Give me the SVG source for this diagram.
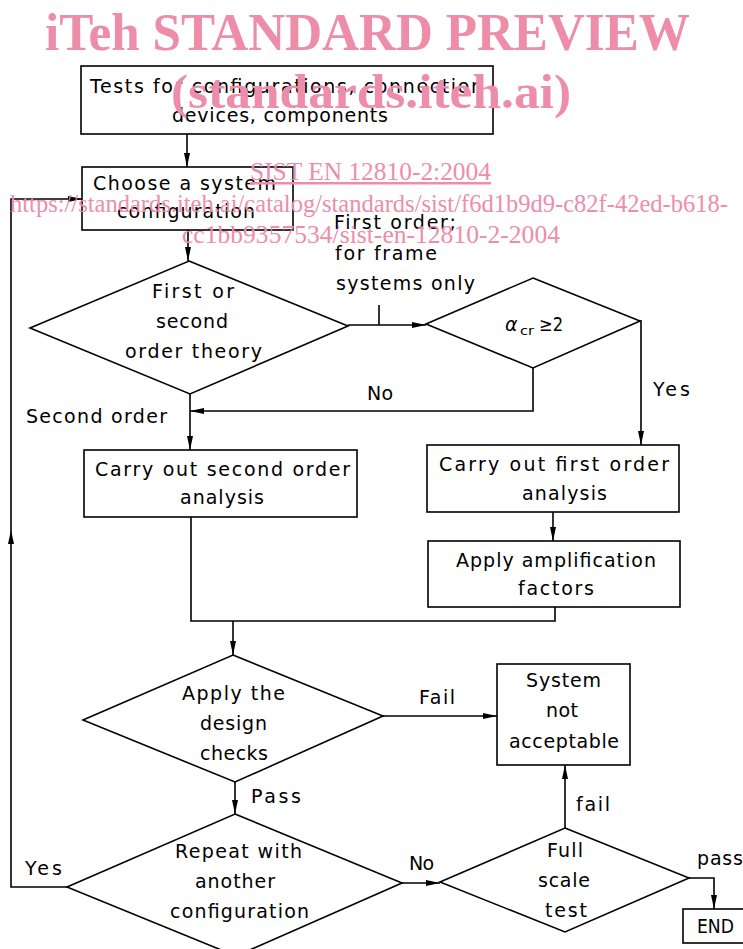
<svg xmlns="http://www.w3.org/2000/svg" width="743" height="949" viewBox="0 0 743 949">
<defs>
<style>
.s{fill:#fff;stroke:#000;stroke-width:1.6}
.c{fill:none;stroke:#000;stroke-width:1.6}
.t{font-family:"DejaVu Sans","Liberation Sans",sans-serif;font-size:19px;fill:#000}
.wm{font-family:"Liberation Serif","Times New Roman",serif;fill:#EE8DAA}
</style>
<marker id="ah" viewBox="0 0 14 8" refX="14" refY="4" markerWidth="14" markerHeight="8" markerUnits="userSpaceOnUse" orient="auto">
<path d="M0,1 L14,4 L0,7 Z" fill="#000"/>
</marker>
</defs>
<rect width="743" height="949" fill="#fff"/>

<g id="connectors">
<path class="c" d="M187,134 V167" marker-end="url(#ah)"/>
<path class="c" d="M188,230 V261" marker-end="url(#ah)"/>
<path class="c" d="M348,325 H426" marker-end="url(#ah)"/>
<path class="c" d="M379,305 V325"/>
<path class="c" d="M533,368 V411 H190" marker-end="url(#ah)"/>
<path class="c" d="M640,321 H641 V445" marker-end="url(#ah)"/>
<path class="c" d="M190,394 V450" marker-end="url(#ah)"/>
<path class="c" d="M553,512 V541" marker-end="url(#ah)"/>
<path class="c" d="M191,517 V621 H555 V607"/>
<path class="c" d="M233,621 V655" marker-end="url(#ah)"/>
<path class="c" d="M383,716 H497" marker-end="url(#ah)"/>
<path class="c" d="M235,782 V814" marker-end="url(#ah)"/>
<path class="c" d="M67,887 H11 V530" marker-end="url(#ah)"/>
<path class="c" d="M11,530 V199 H82" marker-end="url(#ah)"/>
<path class="c" d="M402,883 H440" marker-end="url(#ah)"/>
<path class="c" d="M565,828 V765" marker-end="url(#ah)"/>
<path class="c" d="M689,878 H714 V909" marker-end="url(#ah)"/>
</g>

<g id="tests">
<rect class="s" x="81" y="66" width="412" height="68"/>
<text class="t" x="90" y="93" textLength="393" lengthAdjust="spacing">Tests for configurations, connection</text>
<text class="t" x="172" y="122" textLength="216" lengthAdjust="spacing">devices, components</text>
</g>

<g id="choose">
<rect class="s" x="82" y="167" width="211" height="63"/>
<text class="t" x="93" y="190" textLength="183" lengthAdjust="spacing">Choose a system</text>
<text class="t" x="117" y="218" textLength="138" lengthAdjust="spacing">configuration</text>
</g>

<g id="theory">
<polygon class="s" points="189,261 348,326 190,394 30,328"/>
<text class="t" x="152" y="298" textLength="82" lengthAdjust="spacing">First or</text>
<text class="t" x="156" y="328" textLength="72" lengthAdjust="spacing">second</text>
<text class="t" x="125" y="358" textLength="137" lengthAdjust="spacing">order theory</text>
</g>

<g id="labels">
<text class="t" x="334" y="229" textLength="122" lengthAdjust="spacing">First order;</text>
<text class="t" x="335" y="260" textLength="102" lengthAdjust="spacing">for frame</text>
<text class="t" x="336" y="290" textLength="139" lengthAdjust="spacing">systems only</text>
<text class="t" x="367" y="400" textLength="26" lengthAdjust="spacing">No</text>
<text class="t" x="653" y="396" textLength="37" lengthAdjust="spacing">Yes</text>
<text class="t" x="26" y="423" textLength="141" lengthAdjust="spacing">Second order</text>
<text class="t" x="419" y="704" textLength="36" lengthAdjust="spacing">Fail</text>
<text class="t" x="251" y="803" textLength="50" lengthAdjust="spacing">Pass</text>
<text class="t" x="25" y="875" textLength="37" lengthAdjust="spacing">Yes</text>
<text class="t" x="409" y="870" textLength="25" lengthAdjust="spacing">No</text>
<text class="t" x="576" y="811" textLength="34" lengthAdjust="spacing">fail</text>
<text class="t" x="697" y="865" textLength="46" lengthAdjust="spacing">pass</text>
</g>

<g id="alpha">
<polygon class="s" points="533,278 640,321 533,368 426,324"/>
<text class="t" x="505" y="331" font-style="italic">α</text>
<text class="t" x="520" y="335" style="font-size:12px" textLength="14" lengthAdjust="spacingAndGlyphs">cr</text>
<text class="t" x="539" y="331" textLength="24" lengthAdjust="spacingAndGlyphs">≥2</text>
</g>

<g id="second">
<rect class="s" x="84" y="450" width="273" height="67"/>
<text class="t" x="95" y="476" textLength="255" lengthAdjust="spacing">Carry out second order</text>
<text class="t" x="180" y="504" textLength="84" lengthAdjust="spacing">analysis</text>
</g>

<g id="first">
<rect class="s" x="427" y="445" width="252" height="67"/>
<text class="t" x="439" y="471" textLength="230" lengthAdjust="spacing">Carry out first order</text>
<text class="t" x="522" y="500" textLength="85" lengthAdjust="spacing">analysis</text>
</g>

<g id="amplify">
<rect class="s" x="428" y="541" width="252" height="66"/>
<text class="t" x="456" y="567" textLength="200" lengthAdjust="spacing">Apply amplification</text>
<text class="t" x="518" y="595" textLength="76" lengthAdjust="spacing">factors</text>
</g>

<g id="checks">
<polygon class="s" points="233,655 383,716 235,782 83,720"/>
<text class="t" x="182" y="700" textLength="103" lengthAdjust="spacing">Apply the</text>
<text class="t" x="200" y="730" textLength="67" lengthAdjust="spacing">design</text>
<text class="t" x="200" y="760" textLength="68" lengthAdjust="spacing">checks</text>
</g>

<g id="notacceptable">
<rect class="s" x="497" y="664" width="133" height="101"/>
<text class="t" x="526" y="687" textLength="75" lengthAdjust="spacing">System</text>
<text class="t" x="546" y="717" textLength="32" lengthAdjust="spacing">not</text>
<text class="t" x="509" y="748" textLength="110" lengthAdjust="spacing">acceptable</text>
</g>

<g id="repeat">
<polygon class="s" points="235,814 402,883 236,956 67,887"/>
<text class="t" x="175" y="858" textLength="127" lengthAdjust="spacing">Repeat with</text>
<text class="t" x="195" y="888" textLength="80" lengthAdjust="spacing">another</text>
<text class="t" x="170" y="918" textLength="139" lengthAdjust="spacing">configuration</text>
</g>

<g id="fullscale">
<polygon class="s" points="565,828 689,878 565,932 440,882"/>
<text class="t" x="547" y="857" textLength="36" lengthAdjust="spacing">Full</text>
<text class="t" x="538" y="887" textLength="52" lengthAdjust="spacing">scale</text>
<text class="t" x="545" y="917" textLength="42" lengthAdjust="spacing">test</text>
</g>

<g id="end">
<rect class="s" x="683" y="909" width="80" height="34"/>
<text class="t" x="697" y="933" textLength="37" lengthAdjust="spacingAndGlyphs">END</text>
</g>

<g id="watermark">
<text class="wm" x="45" y="50" font-size="53" font-weight="bold" textLength="645" lengthAdjust="spacingAndGlyphs">iTeh STANDARD PREVIEW</text>
<text class="wm" x="171" y="108" font-size="48" font-weight="bold" textLength="400" lengthAdjust="spacingAndGlyphs">(standards.iteh.ai)</text>
<text class="wm" x="250" y="180" font-size="25" textLength="241" lengthAdjust="spacingAndGlyphs" text-decoration="underline">SIST EN 12810-2:2004</text>
<text class="wm" x="10" y="212" font-size="25" textLength="718" lengthAdjust="spacingAndGlyphs">https://standards.iteh.ai/catalog/standards/sist/f6d1b9d9-c82f-42ed-b618-</text>
<text class="wm" x="182" y="243" font-size="25" textLength="378" lengthAdjust="spacingAndGlyphs">cc1bb9357534/sist-en-12810-2-2004</text>
</g>
</svg>
